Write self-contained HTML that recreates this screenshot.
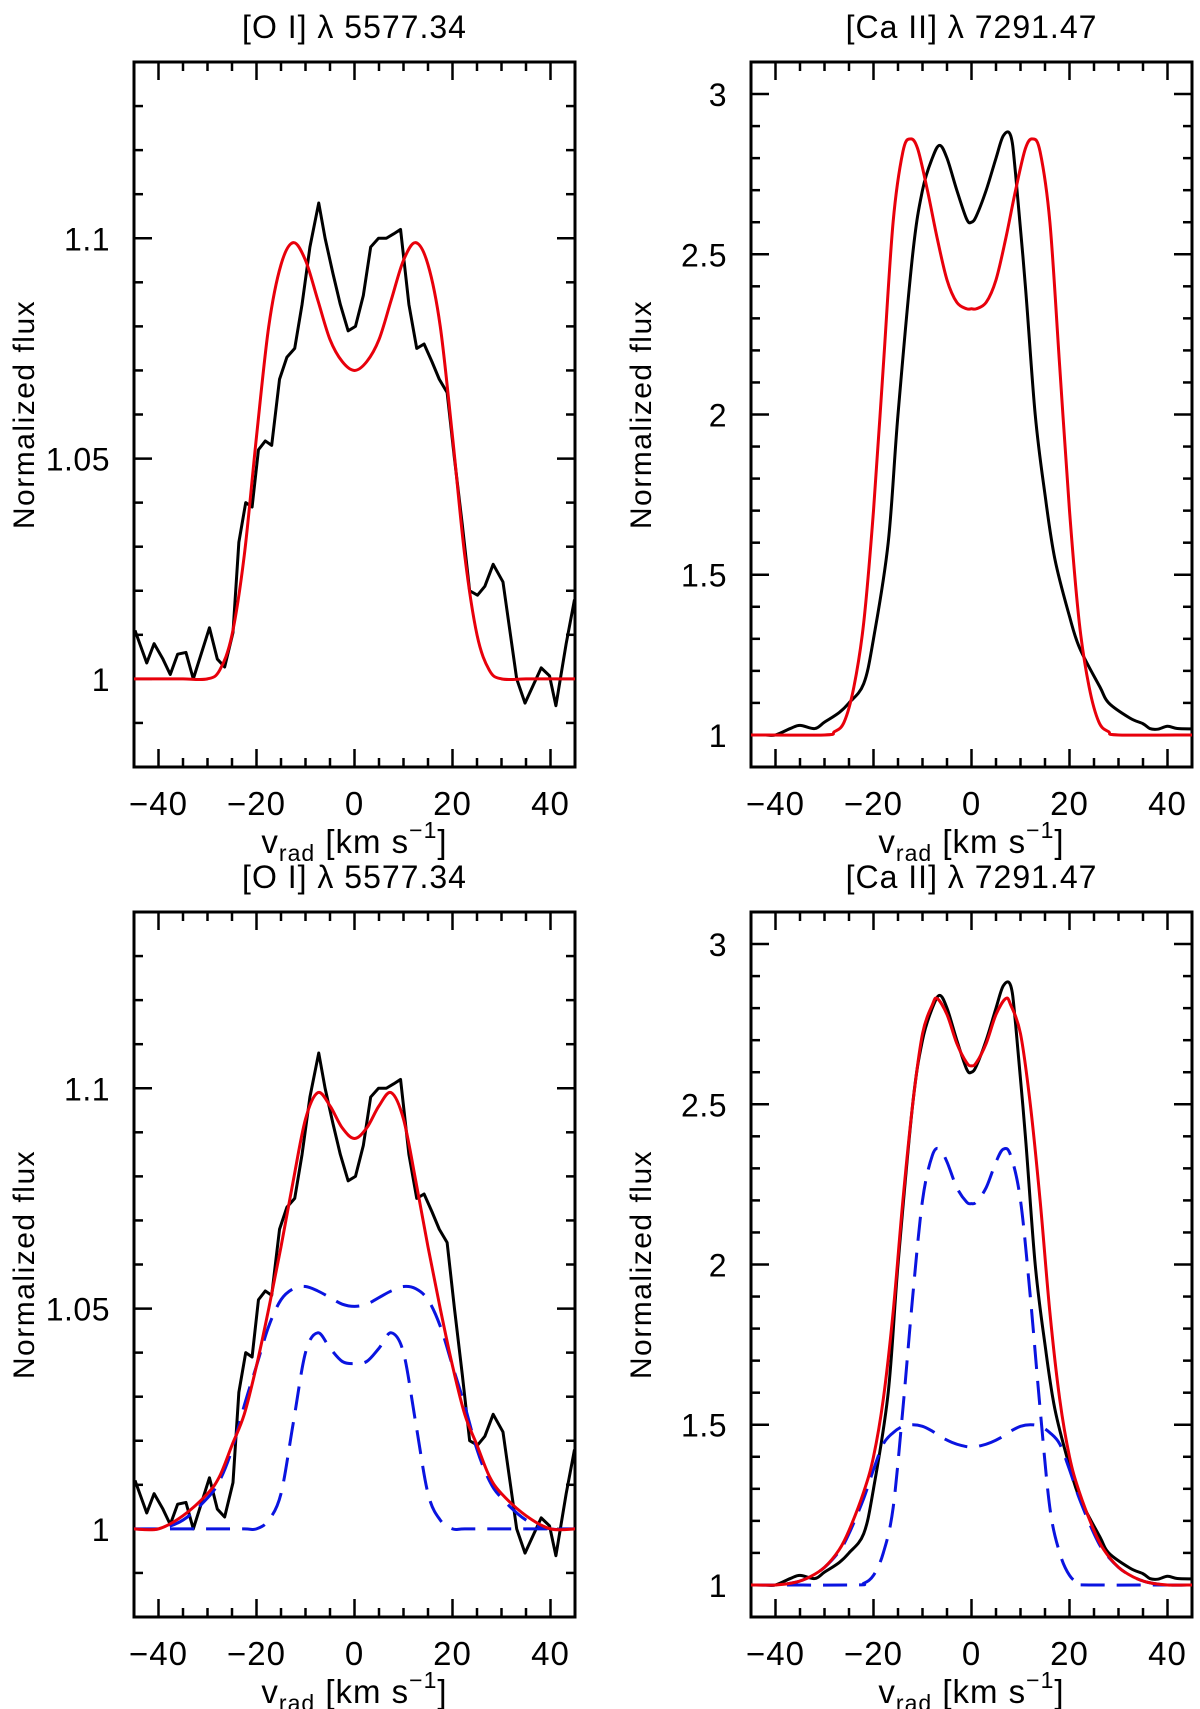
<!DOCTYPE html>
<html><head><meta charset="utf-8"><style>
html,body{margin:0;padding:0;background:#fff}
svg{display:block}
text{font-family:"Liberation Sans",sans-serif;fill:#000}
</style></head><body>
<svg id="fig" width="1200" height="1709" viewBox="0 0 1200 1709" xmlns="http://www.w3.org/2000/svg"></svg>
<script>
// ---- data ----
const xTicks = [-40,-20,0,20,40];
const yTicksOI = [1,1.05,1.1];
const yTicksCa = [1,1.5,2,2.5,3];
const yTickLabelsOI = ["1","1.05","1.1"];
const yTickLabelsCa = ["1","1.5","2","2.5","3"];

// observed [O I] profile
const obsOIv = [-44.8,-42.4,-40.9,-39.1,-37.6,-36.1,-34.4,-32.9,-29.6,-28,-26.5,-24.8,-23.6,-22.2,-20.9,-19.6,-18.2,-16.9,-15.3,-13.8,-12.2,-10.7,-9.1,-7.3,-6,-4.4,-2.9,-1.3,0.2,1.8,3.3,4.9,6.5,8,9.4,11.1,12.7,14.2,15.8,17.3,18.9,20.4,22,23.5,25.1,26.6,28.3,30.3,33.1,34.8,38.1,39.8,41.1,43.2,44.9];
const obsOIf = [1.011,1.0036,1.008,1.0045,1.001,1.0056,1.006,1.0,1.0116,1.0045,1.0027,1.0105,1.031,1.040,1.039,1.052,1.054,1.053,1.068,1.073,1.075,1.085,1.098,1.108,1.100,1.092,1.085,1.079,1.080,1.087,1.098,1.100,1.100,1.101,1.102,1.085,1.075,1.076,1.072,1.068,1.065,1.050,1.035,1.020,1.019,1.021,1.026,1.022,1.0,0.9945,1.0025,1.0007,0.9939,1.008,1.018];

// model [O I] single (top)
const modOIv = [-45,-40,-35,-30,-27.5,-25,-22.5,-20,-17.5,-15,-12.5,-10,-7.5,-5,-2.5,0,2.5,5,7.5,10,12.5,15,17.5,20,22.5,25,27.5,30,35,40,45];
const modOIf = [1,1,1,1,1.002,1.010,1.028,1.055,1.080,1.094,1.099,1.095,1.086,1.077,1.072,1.070,1.072,1.077,1.086,1.095,1.099,1.094,1.080,1.055,1.028,1.010,1.002,1,1,1,1];

// model [O I] two-component (bottom)
const fitOIv = [-45,-40,-35,-30,-27.5,-25,-22.5,-20,-17.5,-15,-12.5,-10,-7.5,-5,-2.5,0,2.5,5,7.5,10,12.5,15,17.5,20,22.5,25,27.5,30,35,40,45];
const fitOIf = [1,1.0,1.003,1.008,1.012,1.019,1.026,1.037,1.050,1.064,1.079,1.093,1.099,1.096,1.091,1.0886,1.091,1.096,1.099,1.093,1.079,1.064,1.050,1.037,1.026,1.019,1.012,1.008,1.003,1.0,1];
const broadOIf = [1,1.0,1.002,1.007,1.011,1.018,1.028,1.037,1.046,1.052,1.0545,1.055,1.054,1.0525,1.051,1.0505,1.051,1.0525,1.054,1.055,1.0545,1.052,1.046,1.037,1.028,1.018,1.011,1.007,1.002,1.0,1];
const narrowOIv = [-45,-30,-22.5,-20,-17.5,-15,-12.5,-10,-7.5,-5,-2.5,0,2.5,5,7.5,10,12.5,15,17.5,20,22.5,30,45];
const narrowOIf = [1,1,1,1.0,1.002,1.008,1.024,1.040,1.0445,1.041,1.038,1.0375,1.038,1.041,1.0445,1.040,1.024,1.008,1.002,1.0,1,1,1];

// observed [Ca II]
const obsCav = [-45,-42,-40,-37,-35,-32,-30,-27,-25,-22,-20,-17,-15,-12,-10,-8,-6.5,-5,-3,-1,0,1,3,5,6.5,8,9,11,13,15,17,20,22.1,26.2,28,32.3,35,36.4,38,40,42,45];
const obsCaf = [1.0,1.0,1.0,1.02,1.03,1.02,1.04,1.07,1.10,1.16,1.30,1.60,2.00,2.50,2.70,2.80,2.84,2.80,2.70,2.61,2.60,2.62,2.70,2.80,2.87,2.87,2.75,2.40,2.00,1.75,1.55,1.37,1.27,1.15,1.10,1.053,1.035,1.02,1.018,1.027,1.02,1.019];

// model [Ca II] single (top)
const modCav = [-45,-30,-28,-26,-24,-22,-20,-18,-16,-14,-12.5,-11,-9,-7,-5,-3,-1,0,1,3,5,7,9,11,12.5,14,16,18,20,22,24,26,28,30,45];
const modCaf = [1,1,1.01,1.04,1.15,1.35,1.70,2.15,2.60,2.82,2.86,2.83,2.70,2.55,2.42,2.35,2.33,2.33,2.33,2.35,2.42,2.55,2.70,2.83,2.86,2.82,2.60,2.15,1.70,1.35,1.15,1.04,1.01,1,1];

// model [Ca II] two-component (bottom)
const fitCav = [-45,-40,-36,-33,-30,-27,-25,-22,-20,-18,-16,-14,-12,-10,-8,-7,-5,-3,-1,0,1,3,5,7,8,10,12,14,16,18,20,22,25,27,30,33,36,40,45];
const fitCaf = [1,1.0,1.008,1.025,1.055,1.11,1.17,1.29,1.40,1.58,1.85,2.20,2.50,2.72,2.81,2.83,2.78,2.69,2.63,2.62,2.63,2.69,2.78,2.83,2.81,2.72,2.50,2.20,1.85,1.58,1.40,1.29,1.17,1.11,1.055,1.025,1.008,1.0,1];
const broadCav = [-45,-40,-36,-33,-30,-27,-25,-22,-20,-18,-16,-14,-12,-10,-8,-6,-4,-2,0,2,4,6,8,10,12,14,16,18,20,22,25,27,30,33,36,40,45];
const broadCaf = [1,1.0,1.008,1.025,1.055,1.105,1.16,1.27,1.36,1.44,1.475,1.495,1.50,1.495,1.48,1.46,1.445,1.435,1.43,1.435,1.445,1.46,1.48,1.495,1.50,1.495,1.475,1.44,1.36,1.27,1.16,1.105,1.055,1.025,1.008,1.0,1];
const narrowCav = [-45,-24,-22,-20,-18,-16,-14,-12,-10,-8,-6.5,-5,-3,-1,0,1,3,5,6.5,8,10,12,14,16,18,20,22,24,45];
const narrowCaf = [1,1,1.005,1.03,1.10,1.24,1.55,1.90,2.20,2.34,2.36,2.32,2.24,2.195,2.19,2.195,2.24,2.32,2.36,2.34,2.20,1.90,1.55,1.24,1.10,1.03,1.005,1,1];

// ---- drawing ----
const NS = "http://www.w3.org/2000/svg";
const svg = document.getElementById("fig");
function mk(tag, attrs, parent){
  const e = document.createElementNS(NS, tag);
  for (const k in attrs) e.setAttribute(k, attrs[k]);
  (parent||svg).appendChild(e);
  return e;
}
function catmull(pts){
  let d = "M" + pts[0][0].toFixed(2) + "," + pts[0][1].toFixed(2);
  for (let i=0;i<pts.length-1;i++){
    const p0=pts[Math.max(0,i-1)], p1=pts[i], p2=pts[i+1], p3=pts[Math.min(pts.length-1,i+2)];
    const c1=[p1[0]+(p2[0]-p0[0])/6, p1[1]+(p2[1]-p0[1])/6];
    const c2=[p2[0]-(p3[0]-p1[0])/6, p2[1]-(p3[1]-p1[1])/6];
    d += " C"+c1[0].toFixed(2)+","+c1[1].toFixed(2)+" "+c2[0].toFixed(2)+","+c2[1].toFixed(2)+" "+p2[0].toFixed(2)+","+p2[1].toFixed(2);
  }
  return d;
}

function panel(cfg){
  const L=cfg.x, T=cfg.y, W=441, H=705, B=T+H, R=L+W;
  const g = mk("g", {});
  
  
  const xs = v => L + (v+45)/90*W;
  const ys = f => B - (f-cfg.ymin)/(cfg.ymax-cfg.ymin)*H;
  const clip = mk("clipPath", {id:"clip-"+cfg.name}, g);
  mk("rect", {x:L, y:T, width:W, height:H}, clip);
  const frame = mk("rect", {x:L, y:T, width:W, height:H, fill:"none", stroke:"#000", "stroke-width":3}, g);
  
  
  for (let v=-40; v<=45; v+=5){
    const major = (v%20===0);
    const len = major?18:9, X=xs(v);
    mk("line",{x1:X,y1:B,x2:X,y2:B-len,stroke:"#000","stroke-width":2.5},g);
    mk("line",{x1:X,y1:T,x2:X,y2:T+len,stroke:"#000","stroke-width":2.5},g);
  }
  xTicks.forEach(v=>{
    const t = mk("text",{x:xs(v),y:B+48,"font-size":33,"text-anchor":"middle","letter-spacing":"1"},g);
    t.textContent = v<0 ? "\u2212"+Math.abs(v) : String(v);
    
    
  });
  const n = Math.round((cfg.ymax-cfg.ymin)/cfg.minor);
  for (let i=1;i<n;i++){
    const f = cfg.ymin + i*cfg.minor;
    const major = Math.abs(Math.round(f/cfg.major)*cfg.major - f) < 1e-6;
    const len = major?18:9, Y=ys(f);
    mk("line",{x1:L,y1:Y,x2:L+len,y2:Y,stroke:"#000","stroke-width":2.5},g);
    mk("line",{x1:R,y1:Y,x2:R-len,y2:Y,stroke:"#000","stroke-width":2.5},g);
  }
  cfg.yticks.forEach((f,i)=>{
    const t = mk("text",{x:L-24,y:ys(f)+12,"font-size":32,"text-anchor":"end","letter-spacing":"0.5"},g);
    t.textContent = cfg.ylabels[i];
    
    
  });
  const tt = mk("text",{x:L+W/2,y:T-24,"font-size":32,"text-anchor":"middle","letter-spacing":"1"},g);
  tt.textContent = cfg.title;
  
  
  const xt = mk("text",{x:L+W/2,y:B+86,"font-size":33,"text-anchor":"middle","letter-spacing":"1"},g);
  xt.innerHTML = 'v<tspan font-size="23" dy="8">rad</tspan><tspan dy="-8"> [km  s</tspan><tspan font-size="23" dy="-15">\u22121</tspan><tspan dy="15">]</tspan>';
  
  
  const yt = mk("text",{x:0,y:0,"font-size":30,"text-anchor":"middle","letter-spacing":"1.5",transform:"translate("+(L-100)+","+(T+H/2)+") rotate(-90)"},g);
  yt.textContent = "Normalized flux";
  
  
  const sg = mk("g",{"clip-path":"url(#clip-"+cfg.name+")"},g);
  cfg.series.forEach(s=>{
    const pts = s.v.map((v,i)=>[xs(v), ys(s.f[i])]);
    let d;
    if (s.smooth) d = catmull(pts);
    else d = "M"+pts.map(p=>p[0].toFixed(2)+","+p[1].toFixed(2)).join(" L");
    const a = {d:d, fill:"none", stroke:s.color, "stroke-width":3, "stroke-linejoin":"round"};
    if (s.dash) a["stroke-dasharray"] = "24,12";
    const p = mk("path", a, sg);
    
    
  });
}

const OI = {ymin:0.98, ymax:1.14, minor:0.01, major:0.05, yticks:yTicksOI, ylabels:yTickLabelsOI, title:"[O I] \u03bb 5577.34"};
const CA = {ymin:0.9, ymax:3.1, minor:0.1, major:0.5, yticks:yTicksCa, ylabels:yTickLabelsCa, title:"[Ca II] \u03bb 7291.47"};

panel(Object.assign({}, OI, {name:"panel-oi-top", x:134, y:62, series:[
  {name:"observed-oi-line", v:obsOIv, f:obsOIf, color:"#000", smooth:false},
  {name:"model-oi-line", v:modOIv, f:modOIf, color:"#e8000b", smooth:true}
]}));
panel(Object.assign({}, CA, {name:"panel-caii-top", x:751, y:62, series:[
  {name:"observed-caii-line", v:obsCav, f:obsCaf, color:"#000", smooth:true},
  {name:"model-caii-line", v:modCav, f:modCaf, color:"#e8000b", smooth:true}
]}));
panel(Object.assign({}, OI, {name:"panel-oi-bottom", x:134, y:912, series:[
  {name:"observed-oi-line", v:obsOIv, f:obsOIf, color:"#000", smooth:false},
  {name:"broad-component-oi", v:fitOIv, f:broadOIf, color:"#0a14e0", smooth:true, dash:true},
  {name:"narrow-component-oi", v:narrowOIv, f:narrowOIf, color:"#0a14e0", smooth:true, dash:true},
  {name:"fit-oi-line", v:fitOIv, f:fitOIf, color:"#e8000b", smooth:true}
]}));
panel(Object.assign({}, CA, {name:"panel-caii-bottom", x:751, y:912, series:[
  {name:"observed-caii-line", v:obsCav, f:obsCaf, color:"#000", smooth:true},
  {name:"broad-component-caii", v:broadCav, f:broadCaf, color:"#0a14e0", smooth:true, dash:true},
  {name:"narrow-component-caii", v:narrowCav, f:narrowCaf, color:"#0a14e0", smooth:true, dash:true},
  {name:"fit-caii-line", v:fitCav, f:fitCaf, color:"#e8000b", smooth:true}
]}));
</script>
</body></html>
